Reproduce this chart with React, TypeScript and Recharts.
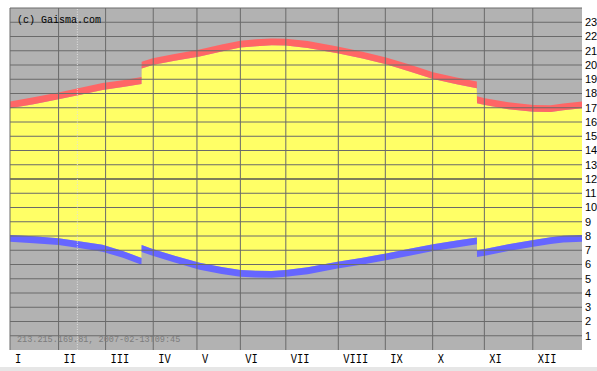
import { ComposedChart, Area, XAxis, YAxis, CartesianGrid, ReferenceLine } from 'recharts';

// month labels and where each month's grid line sits (day-of-year units)
const MONTHS = ['I', 'II', 'III', 'IV', 'V', 'VI', 'VII', 'VIII', 'IX', 'X', 'XI', 'XII'];
const MONTH_START = [0, 31, 61, 91.4, 119.3, 147, 176, 209.5, 239.5, 269.7, 302.7, 333.6];
const HOUR_TICKS = [1, 2, 3, 4, 5, 6, 7, 8, 9, 10, 11, 12, 13, 14, 15, 16, 17, 18, 19, 20, 21, 22, 23];
const HOUR_LINES = [...HOUR_TICKS, 24];

// day of year, sunrise and sunset in local hours (DST jumps at end of March / October)
const DAYS = [0, 15, 31, 45, 59, 72, 83.9, 84, 91, 105, 121, 135, 147, 157, 167, 176, 190, 209, 225, 240, 255, 270, 285, 297.9, 298, 303, 318, 334, 345, 353, 365];
const SUNRISE = [8.07, 7.98, 7.84, 7.62, 7.38, 6.95, 6.46, 7.36, 7.09, 6.62, 6.12, 5.82, 5.62, 5.56, 5.55, 5.62, 5.8, 6.2, 6.48, 6.78, 7.1, 7.42, 7.68, 7.9, 7.0, 7.09, 7.42, 7.72, 7.92, 8.02, 8.07];
const SUNSET = [16.96, 17.25, 17.59, 17.92, 18.25, 18.45, 18.67, 19.75, 20.0, 20.3, 20.6, 20.95, 21.22, 21.32, 21.38, 21.36, 21.2, 20.82, 20.45, 20.05, 19.55, 19.02, 18.65, 18.36, 17.32, 17.19, 16.9, 16.72, 16.7, 16.82, 16.96];

const TODAY = 43; // 2007-02-13
const BAND = 0.48; // thickness of the coloured edge, in hours

const chartData = DAYS.map((day, i) => ({
  day,
  daylight: [SUNRISE[i], SUNSET[i]],
  dusk: [SUNSET[i], SUNSET[i] + BAND],
  dawn: [SUNRISE[i] - BAND, SUNRISE[i]],
}));

const MonthTick = ({ x, y, payload }: any) => {
  const i = MONTH_START.indexOf(payload.value);
  return (
    <text
      x={0}
      y={0}
      transform={`translate(${x + 5},${y + 13}) scale(0.8,1)`}
      fontFamily="Liberation Mono"
      fontSize={13}
      fill="#000"
      textAnchor="start"
    >
      {MONTHS[i]}
    </text>
  );
};

export default function App() {
  return (
    <div style={{ position: 'absolute', left: 0, top: 0, width: 597, height: 371, background: '#fff', overflow: 'hidden' }}>
      <ComposedChart width={597} height={367} data={chartData} margin={{ top: 8, right: 0, bottom: 0, left: 10 }}>
        <CartesianGrid fill="#b2b2b2" horizontal={false} vertical={false} />
        <XAxis
          dataKey="day"
          type="number"
          domain={[0, 365]}
          ticks={MONTH_START}
          interval={0}
          height={17}
          tickSize={0}
          tickMargin={0}
          axisLine={false}
          tickLine={false}
          tick={<MonthTick />}
        />
        <YAxis
          orientation="right"
          type="number"
          domain={[0, 24]}
          ticks={HOUR_TICKS}
          interval={0}
          width={15}
          tickSize={0}
          tickMargin={3}
          axisLine={false}
          tickLine={false}
          tick={{ fontSize: 11, fill: '#000', fontFamily: 'Liberation Sans' }}
        />
        <Area type="linear" dataKey="daylight" stroke="none" fill="#ffff66" fillOpacity={1} dot={false} activeDot={false} isAnimationActive={false} />
        <Area type="linear" dataKey="dusk" stroke="none" fill="#ff6666" fillOpacity={1} dot={false} activeDot={false} isAnimationActive={false} />
        <Area type="linear" dataKey="dawn" stroke="none" fill="#6666ff" fillOpacity={1} dot={false} activeDot={false} isAnimationActive={false} />
        {HOUR_LINES.map((h) => (
          <ReferenceLine key={'h' + h} y={h} stroke={h === 12 ? '#555555' : '#6a6a6a'} strokeWidth={h === 12 ? 1.6 : 1} />
        ))}
        {MONTH_START.map((d) => (
          <ReferenceLine key={'m' + d} x={d} stroke="#6a6a6a" strokeWidth={1} />
        ))}
        <ReferenceLine x={TODAY} stroke="#e0e0e0" strokeDasharray="1 1.5" />
      </ComposedChart>
      <div style={{ position: 'absolute', left: 17, top: 15, fontFamily: 'Liberation Mono', fontSize: 10, color: '#000', whiteSpace: 'pre' }}>
        (c) Gaisma.com
      </div>
      <div style={{ position: 'absolute', left: 17, top: 335, fontFamily: 'Liberation Mono', fontSize: 8.5, color: '#7c7c7c', whiteSpace: 'pre' }}>
        213.215.169.81, 2007-02-13T09:45
      </div>
      <div style={{ position: 'absolute', left: 0, top: 367, width: 597, height: 4, background: '#e6e6e6' }} />
    </div>
  );
}
